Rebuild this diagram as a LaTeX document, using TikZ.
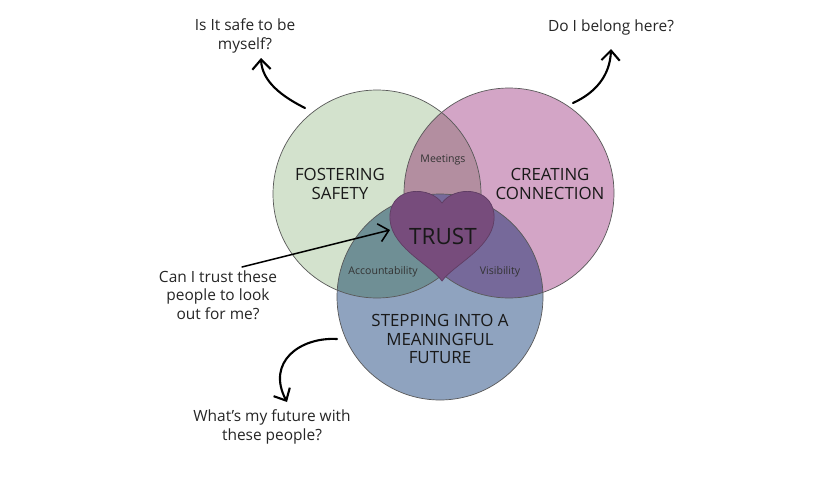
\documentclass[tikz,border=0pt]{standalone}
\usepackage{fontspec}
\setmainfont{Open Sans}
\usetikzlibrary{arrows.meta}
\definecolor{safegreen}{HTML}{D3E2CD}
\definecolor{connpink}{HTML}{D3A5C6}
\definecolor{futblue}{HTML}{8FA3BF}
\definecolor{meetmix}{HTML}{B38EA0}
\definecolor{accmix}{HTML}{6F8F95}
\definecolor{vismix}{HTML}{76699A}
\definecolor{trustheart}{HTML}{774C7C}
\tikzset{
	ring/.style={draw=black!65, line width=0.5pt},
	question/.style={align=center, font=\fontsize{11}{13}\selectfont, text=black!85},
	biglabel/.style={align=center, font=\fontsize{12}{13}\selectfont, text=black!90},
	small/.style={font=\fontsize{7.5}{9}\selectfont, text=black!80},
	handarrow/.style={line width=1.5pt, line cap=round, -{Straight Barb[length=7pt,width=13pt]}}
}
\begin{document}
\begin{tikzpicture}[x=0.025cm, y=-0.025cm]
	\fill[white] (0,0) rectangle (840,480);
	\useasboundingbox (0,0) rectangle (840,480);

	\coordinate (G) at (377,194);
	\coordinate (P) at (509,193);
	\coordinate (B) at (440,297);
	\fill[safegreen] (G) circle (104);
	\fill[connpink] (P) circle (105);
	\fill[futblue] (B) circle (103);
	\begin{scope}
		\clip (G) circle (104);
		\fill[meetmix] (P) circle (105);
		\fill[accmix] (B) circle (103);
	\end{scope}
	\begin{scope}
		\clip (P) circle (105);
		\fill[vismix] (B) circle (103);
	\end{scope}
	\draw[ring] (G) circle (104);
	\draw[ring] (P) circle (105);
	\draw[ring] (B) circle (103);

	\draw[fill=trustheart, draw=trustheart!80!black, line width=0.5pt] (442,203) .. controls (430,186) and (393,186) .. (390,214) .. controls (387,246) and (430,264) .. (442,281) .. controls (454,264) and (497,246) .. (494,214) .. controls (491,186) and (454,186) .. (442,203) -- cycle;

	\node[biglabel] (safety) at (340,184) {FOSTERING\\SAFETY};
	\node[biglabel] (connection) at (550,184) {CREATING\\CONNECTION};
	\node[biglabel] (future) at (440,339) {STEPPING INTO A\\MEANINGFUL\\FUTURE};
	\node[small] (meet) at (443,160) {Meetings};
	\node[small] (acc) at (383,272) {Accountability};
	\node[small] (vis) at (500,272) {Visibility};
	\node[font=\fontsize{16}{18}\selectfont, text=black!90] (trust) at (443,236) {TRUST};

	\node[question] (safeQ) at (245,36) {Is It safe to be\\myself?};
	\node[question] (belongQ) at (611,27) {Do I belong here?};
	\node[question] (trustQ) at (218,295) {Can I trust these\\people to look\\out for me?};
	\node[question] (futureQ) at (272,427) {What’s my future with\\these people?};

	\coordinate (safeFrom) at (305,108);
	\coordinate (safeTo) at (261,58);
	\coordinate (belongFrom) at (573,103);
	\coordinate (belongTo) at (611,49);
	\coordinate (trustFrom) at (242,267);
	\coordinate (trustTo) at (390,230);
	\coordinate (futureFrom) at (337,339);
	\coordinate (futureTo) at (287,402);
	\draw[handarrow] (safeFrom) .. controls (283,97) and (262,82) .. (safeTo);
	\draw[handarrow] (belongFrom) .. controls (595,93) and (610,76) .. (belongTo);
	\draw[handarrow, line width=1.1pt] (trustFrom) -- (trustTo);
	\draw[handarrow] (futureFrom) .. controls (300,337) and (266,362) .. (futureTo);
\end{tikzpicture}
\end{document}
